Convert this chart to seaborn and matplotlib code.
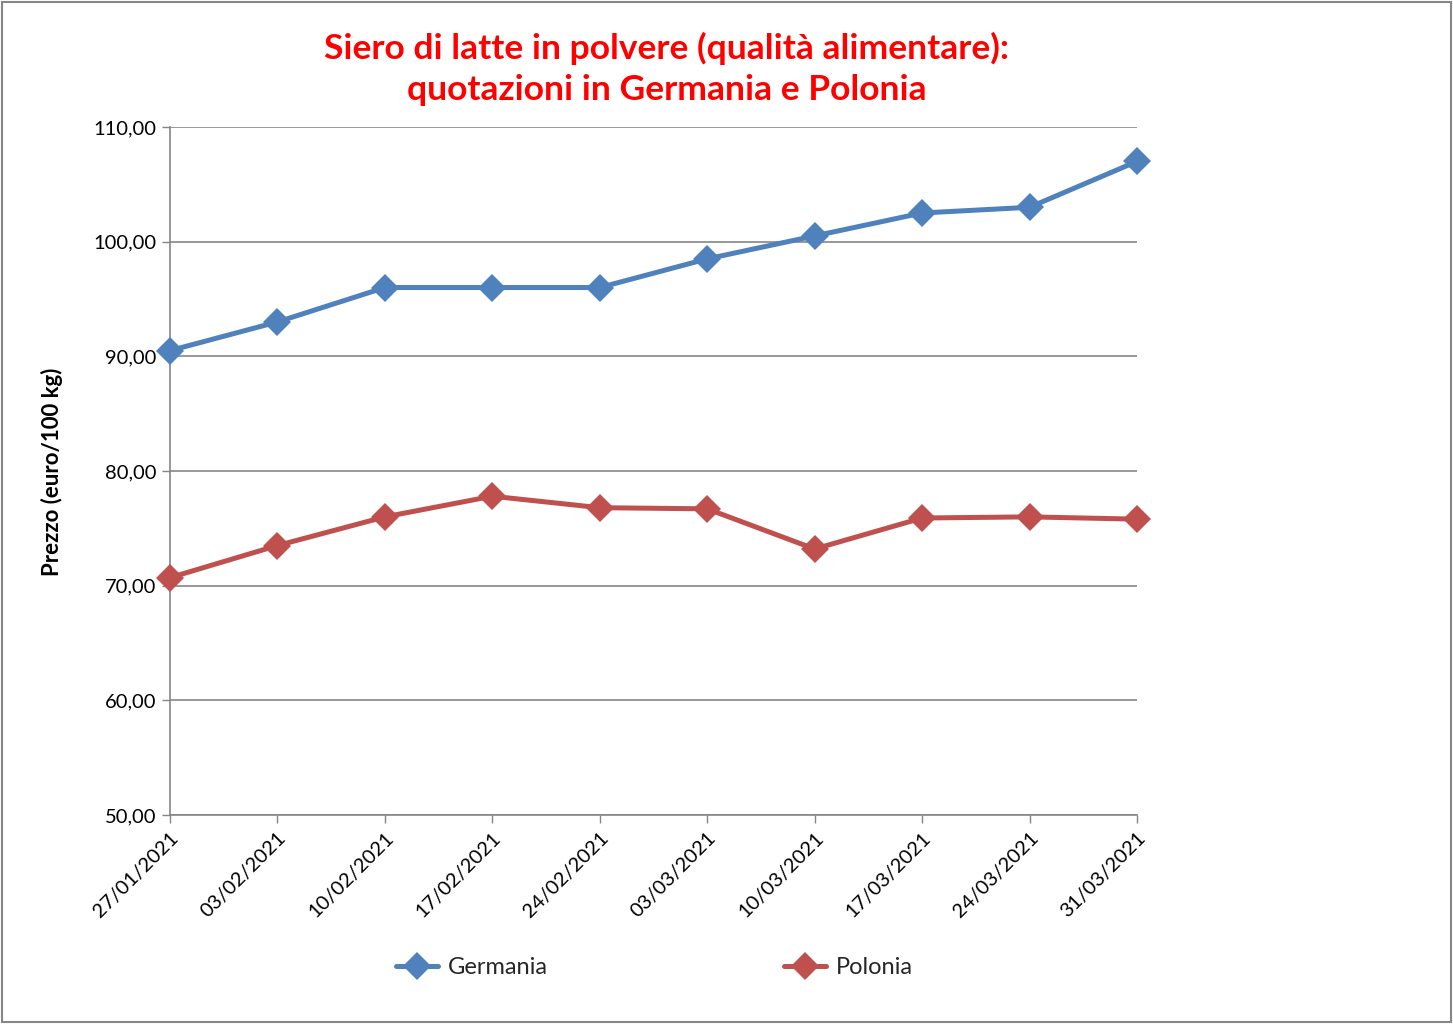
import matplotlib
matplotlib.use("Agg")
import matplotlib.pyplot as plt
import matplotlib.patches as mpatches
from matplotlib.ticker import FuncFormatter
import seaborn as sns
import pandas as pd

dates = ["27/01/2021", "03/02/2021", "10/02/2021", "17/02/2021", "24/02/2021",
         "03/03/2021", "10/03/2021", "17/03/2021", "24/03/2021", "31/03/2021"]
germania = [90.5, 93.0, 96.0, 96.0, 96.0, 98.5, 100.5, 102.5, 103.0, 107.0]
polonia = [70.7, 73.5, 76.0, 77.8, 76.8, 76.7, 73.2, 75.9, 76.0, 75.8]
series_names = ["Germania", "Polonia"]
colors = ["#4F81BD", "#C0504D"]
yticks = [50, 60, 70, 80, 90, 100, 110]

title = "Siero di latte in polvere (qualità alimentare):\nquotazioni in Germania e Polonia"
ylabel = "Prezzo (euro/100 kg)"

sns.set_theme(style="white")
plt.rcParams["font.family"] = ["Lato", "DejaVu Sans"]

df = pd.DataFrame({
    "idx": list(range(len(dates))) * 2,
    "valore": germania + polonia,
    "serie": [series_names[0]] * len(dates) + [series_names[1]] * len(dates),
})

fig = plt.figure(figsize=(14.53, 10.24), dpi=100)
ax = fig.add_axes([170 / 1453, 1 - 815 / 1024, (1137 - 170) / 1453, (815 - 127) / 1024])

sns.lineplot(data=df, x="idx", y="valore", hue="serie", palette=colors,
             marker="D", markersize=14, markeredgewidth=0, linewidth=3.6,
             ax=ax, legend=False)
for ln in ax.get_lines():
    ln.set_clip_on(False)
    ln.set_zorder(5)

ax.set_xlim(0, len(dates) - 1)
ax.set_ylim(50, 110)
ax.set_yticks(yticks)
ax.yaxis.set_major_formatter(FuncFormatter(lambda v, p: f"{v:.2f}".replace(".", ",")))
ax.set_xticks(range(len(dates)))
ax.set_xticklabels(dates, rotation=45, ha="right", rotation_mode="anchor", fontsize=14.5)
for lab in ax.get_yticklabels():
    lab.set_fontsize(14.5)
ax.tick_params(axis="both", direction="out", length=6, width=1, color="#868686",
               left=True, bottom=True, pad=4, labelcolor="black")
ax.grid(axis="y", color="#868686", linewidth=1.2)
ax.grid(axis="x", visible=False)
for s in ["top", "right"]:
    ax.spines[s].set_visible(False)
for s in ["left", "bottom"]:
    ax.spines[s].set_color("#868686")
    ax.spines[s].set_linewidth(1.2)
ax.set_xlabel("")
ax.set_ylabel("")

fig.text(52 / 1453, 1 - 472 / 1024, ylabel, rotation=90, ha="center", va="center",
         fontsize=16, fontweight="bold", color="black")
fig.text(667 / 1453, 1 - 69 / 1024, title, ha="center", va="center", fontsize=25.5,
         fontweight="bold", color="#FF0000", linespacing=1.35)

handles = [plt.Line2D([], [], color=c, marker="D", markersize=14, markeredgewidth=0,
                      linewidth=3.6) for c in colors]
fig.legend(handles, series_names, loc="center", bbox_to_anchor=(654 / 1453, 1 - 968 / 1024),
           ncol=2, frameon=False, fontsize=17, columnspacing=10, handlelength=1.8,
           handletextpad=0.4)

fig.patches.append(mpatches.Rectangle((0.0015, 0.002), 0.997, 0.996, transform=fig.transFigure,
                                      fill=False, edgecolor="#868686", linewidth=1.5))

fig.savefig("out.png", dpi=100)
